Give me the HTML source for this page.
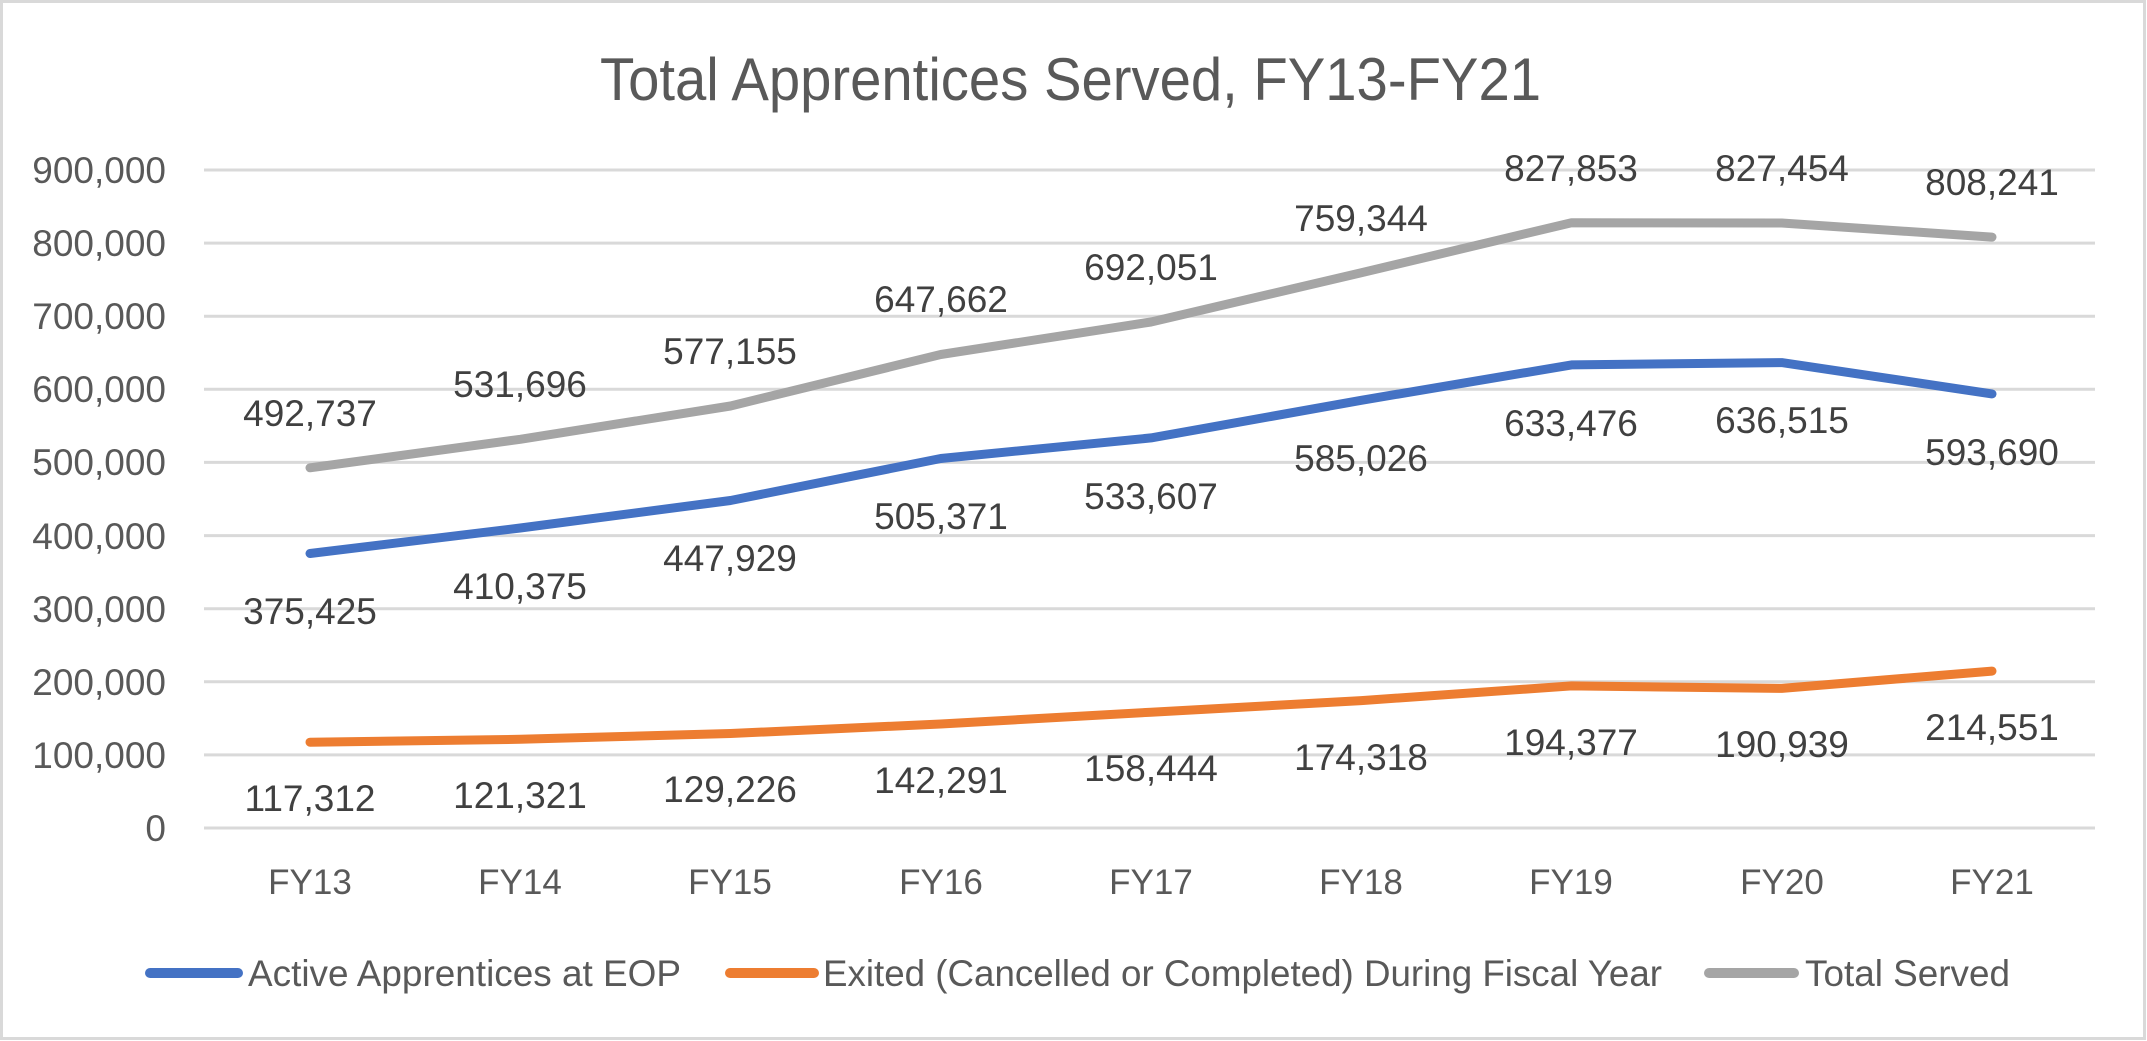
<!DOCTYPE html>
<html><head><meta charset="utf-8"><style>
html,body{margin:0;padding:0;background:#fff}
svg{display:block}
text{font-family:"Liberation Sans",sans-serif}
</style></head><body>
<svg width="2147" height="1041" viewBox="0 0 2147 1041" xmlns="http://www.w3.org/2000/svg">
<rect x="1.5" y="1.5" width="2143" height="1037" fill="#fff" stroke="#d9d9d9" stroke-width="3"/>
<text x="600" y="100" font-size="60" fill="#595959" textLength="941" lengthAdjust="spacingAndGlyphs">Total Apprentices Served, FY13-FY21</text>
<g stroke="#d9d9d9" stroke-width="3">
<line x1="204" x2="2095" y1="170" y2="170"/><line x1="204" x2="2095" y1="243.1" y2="243.1"/>
<line x1="204" x2="2095" y1="316.2" y2="316.2"/><line x1="204" x2="2095" y1="389.3" y2="389.3"/>
<line x1="204" x2="2095" y1="462.4" y2="462.4"/><line x1="204" x2="2095" y1="535.6" y2="535.6"/>
<line x1="204" x2="2095" y1="608.7" y2="608.7"/><line x1="204" x2="2095" y1="681.8" y2="681.8"/>
<line x1="204" x2="2095" y1="754.9" y2="754.9"/><line x1="204" x2="2095" y1="828" y2="828"/>
</g>
<g font-size="37" fill="#595959" text-anchor="end">
<text x="166" y="183">900,000</text><text x="166" y="256">800,000</text><text x="166" y="329">700,000</text>
<text x="166" y="402">600,000</text><text x="166" y="475">500,000</text><text x="166" y="549">400,000</text>
<text x="166" y="622">300,000</text><text x="166" y="695">200,000</text><text x="166" y="768">100,000</text>
<text x="166" y="841">0</text>
</g>
<g font-size="35" fill="#595959" text-anchor="middle">
<text x="310" y="894">FY13</text><text x="520" y="894">FY14</text><text x="730" y="894">FY15</text>
<text x="941" y="894">FY16</text><text x="1151" y="894">FY17</text><text x="1361" y="894">FY18</text>
<text x="1571" y="894">FY19</text><text x="1782" y="894">FY20</text><text x="1992" y="894">FY21</text>
</g>
<g fill="none" stroke-width="9" stroke-linecap="round" stroke-linejoin="round">
<polyline stroke="#A5A5A5" points="310,467.8 520.25,439.3 730.5,406 940.75,354.5 1151,322 1361.25,272.8 1571.5,222.7 1781.75,223 1992,237.1"/>
<polyline stroke="#4472C4" points="310,553.5 520.25,528 730.5,500.5 940.75,458.5 1151,437.9 1361.25,400.3 1571.5,364.9 1781.75,362.6 1992,393.9"/>
<polyline stroke="#ED7D31" points="310,742.2 520.25,739.3 730.5,733.5 940.75,724 1151,712.2 1361.25,700.6 1571.5,685.9 1781.75,688.4 1992,671.1"/>
</g>
<g font-size="37" fill="#404040" text-anchor="middle">
<text x="310" y="426">492,737</text><text x="520" y="397">531,696</text><text x="730" y="364">577,155</text>
<text x="941" y="312">647,662</text><text x="1151" y="280">692,051</text><text x="1361" y="231">759,344</text>
<text x="1571" y="181">827,853</text><text x="1782" y="181">827,454</text><text x="1992" y="195">808,241</text>
<text x="310" y="624">375,425</text><text x="520" y="599">410,375</text><text x="730" y="571">447,929</text>
<text x="941" y="529">505,371</text><text x="1151" y="509">533,607</text><text x="1361" y="471">585,026</text>
<text x="1571" y="436">633,476</text><text x="1782" y="433">636,515</text><text x="1992" y="465">593,690</text>
<text x="310" y="811">117,312</text><text x="520" y="808">121,321</text><text x="730" y="802">129,226</text>
<text x="941" y="793">142,291</text><text x="1151" y="781">158,444</text><text x="1361" y="770">174,318</text>
<text x="1571" y="755">194,377</text><text x="1782" y="757">190,939</text><text x="1992" y="740">214,551</text>
</g>
<g stroke-width="10" stroke-linecap="round">
<line x1="150" x2="238" y1="973" y2="973" stroke="#4472C4"/>
<line x1="730" x2="814" y1="973" y2="973" stroke="#ED7D31"/>
<line x1="1709" x2="1794" y1="973" y2="973" stroke="#A5A5A5"/>
</g>
<g font-size="37" fill="#595959">
<text x="248" y="986" textLength="433" lengthAdjust="spacingAndGlyphs">Active Apprentices at EOP</text>
<text x="823" y="986" textLength="839" lengthAdjust="spacingAndGlyphs">Exited (Cancelled or Completed) During Fiscal Year</text>
<text x="1805" y="986" textLength="205" lengthAdjust="spacingAndGlyphs">Total Served</text>
</g>
</svg>
</body></html>
